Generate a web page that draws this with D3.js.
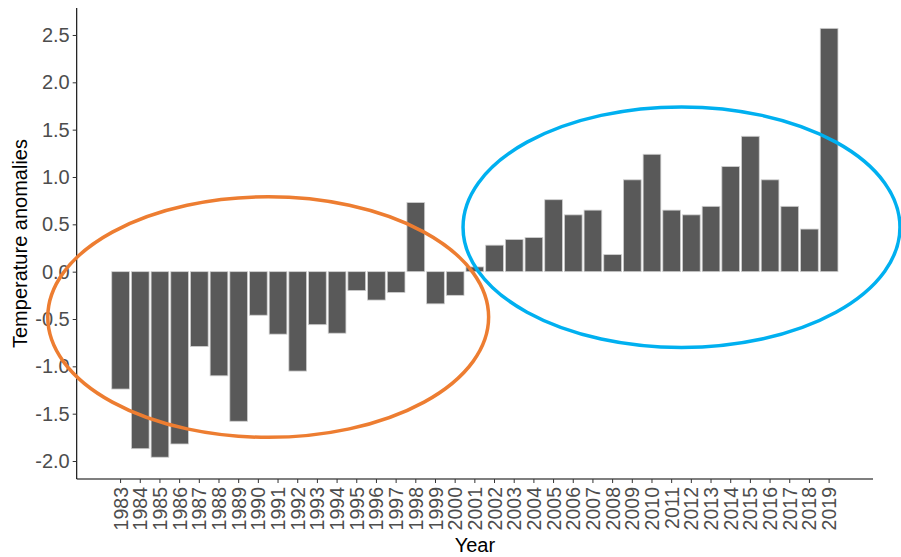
<!DOCTYPE html>
<html>
<head>
<meta charset="utf-8">
<script src="https://cdn.jsdelivr.net/npm/d3@7"></script>
<style>
  html, body { margin: 0; padding: 0; background: #fff; }
  svg { display: block; font-family: "Liberation Sans", Arial, sans-serif; }
</style>
</head>
<body>
<svg id="chart" width="901" height="557"></svg>
<script>
// Yearly temperature anomalies
const years = [1983, 1984, 1985, 1986, 1987, 1988, 1989, 1990, 1991, 1992,
  1993, 1994, 1995, 1996, 1997, 1998, 1999, 2000, 2001, 2002,
  2003, 2004, 2005, 2006, 2007, 2008, 2009, 2010, 2011, 2012,
  2013, 2014, 2015, 2016, 2017, 2018, 2019];
const anomalies = [-1.24, -1.87, -1.96, -1.82, -0.79, -1.10, -1.58, -0.46, -0.66, -1.05,
  -0.56, -0.65, -0.20, -0.30, -0.22, 0.73, -0.34, -0.25, 0.05, 0.28,
  0.34, 0.36, 0.76, 0.60, 0.65, 0.18, 0.97, 1.24, 0.65, 0.60,
  0.69, 1.11, 1.43, 0.97, 0.69, 0.45, 2.57];
const yTicks = [-2.0, -1.5, -1.0, -0.5, 0.0, 0.5, 1.0, 1.5, 2.0, 2.5];

// Highlight groups: earlier negative period and recent warm period
const groupEllipses = [
  { cx: 1990.5, cy: -0.48, rx: 11.2, ry: 1.27, color: "#ED7D31" },
  { cx: 2011.5, cy: 0.47, rx: 11.1, ry: 1.27, color: "#00B0F0" }
];

const svg = d3.select("#chart");
const plotLeft = 76.7, plotRight = 873, plotTop = 8, plotBottom = 479;

const x = d3.scaleBand()
  .domain(years)
  .range([plotLeft, plotRight])
  .paddingInner(0.1)
  .paddingOuter(1.78);

const y = d3.scaleLinear()
  .domain([-2.19, 2.785])
  .range([plotBottom, plotTop]);

// Year scale in continuous units, for the ellipse annotations
const yearPos = d => x(Math.floor(d)) + x.bandwidth() / 2 + (d - Math.floor(d)) * x.step();
const pxPerYear = x.step();
const pxPerUnit = (plotBottom - plotTop) / (2.785 + 2.19);

// Bars
svg.append("g")
  .selectAll("rect")
  .data(years.map((yr, i) => ({ yr, v: anomalies[i] })))
  .join("rect")
  .attr("x", d => x(d.yr))
  .attr("width", x.bandwidth())
  .attr("y", d => y(Math.max(0, d.v)))
  .attr("height", d => Math.abs(y(d.v) - y(0)))
  .attr("fill", "#595959")
  .attr("stroke", "#cfcfcf")
  .attr("stroke-width", 0.8);

// Y axis
const yAxis = svg.append("g")
  .attr("transform", `translate(${plotLeft},0)`)
  .call(d3.axisLeft(y).tickValues(yTicks).tickSize(4).tickPadding(3));
yAxis.select(".domain").attr("stroke", "#000").attr("stroke-width", 1.1)
  .attr("d", `M0,${plotTop}V${plotBottom}`);
yAxis.selectAll(".tick line").attr("stroke", "#333");
yAxis.selectAll(".tick text")
  .attr("fill", "#4D4D4D")
  .style("font-size", "20px")
  .style("font-family", "'Liberation Sans', Arial, sans-serif")
  .text(d => d3.format(".1f")(d).replace("\u2212", "-"));

// X axis
const xAxis = svg.append("g")
  .attr("transform", `translate(0,${plotBottom})`)
  .call(d3.axisBottom(x).tickSize(4).tickSizeOuter(0));
xAxis.select(".domain").attr("stroke", "#000").attr("stroke-width", 1.1)
  .attr("d", `M${plotLeft},0H${plotRight}`);
xAxis.selectAll(".tick line").attr("stroke", "#333");
xAxis.selectAll(".tick text")
  .attr("fill", "#4D4D4D")
  .style("font-size", "19.5px")
  .style("font-family", "'Liberation Sans', Arial, sans-serif")
  .attr("transform", "rotate(-90)")
  .attr("text-anchor", "end")
  .attr("x", -8)
  .attr("y", 0)
  .attr("dy", "0.36em");

// Axis titles
svg.append("text")
  .attr("x", (plotLeft + plotRight) / 2)
  .attr("y", 552)
  .attr("text-anchor", "middle")
  .attr("fill", "#000")
  .style("font-size", "20px")
  .text("Year");

svg.append("text")
  .attr("transform", `translate(27,${(plotTop + plotBottom) / 2}) rotate(-90)`)
  .attr("text-anchor", "middle")
  .attr("fill", "#000")
  .style("font-size", "20px")
  .text("Temperature anomalies");

// Ellipse annotations
svg.append("g")
  .selectAll("ellipse")
  .data(groupEllipses)
  .join("ellipse")
  .attr("cx", d => yearPos(d.cx))
  .attr("cy", d => y(d.cy))
  .attr("rx", d => d.rx * pxPerYear)
  .attr("ry", d => d.ry * pxPerUnit)
  .attr("fill", "none")
  .attr("stroke", d => d.color)
  .attr("stroke-width", 3.5);
</script>
</body>
</html>
